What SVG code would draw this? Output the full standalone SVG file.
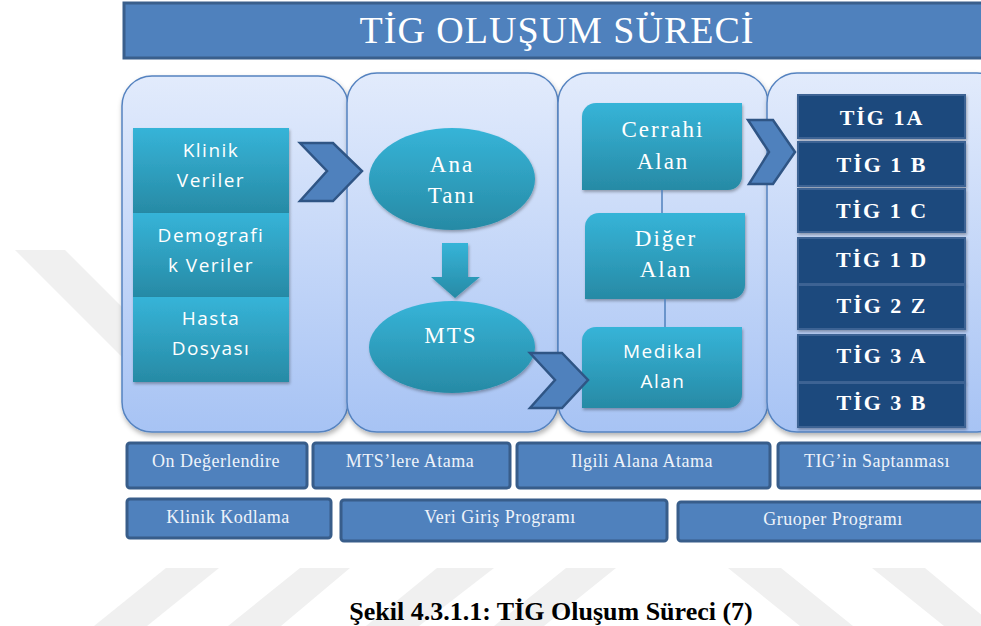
<svg xmlns="http://www.w3.org/2000/svg" width="981" height="626" viewBox="0 0 981 626">
<defs>
<linearGradient id="gPanel" x1="0" y1="0" x2="0" y2="1"><stop offset="0" stop-color="#e2ebfc"/><stop offset="1" stop-color="#a7c3f4"/></linearGradient>
<linearGradient id="gTeal" x1="0" y1="0" x2="0" y2="1"><stop offset="0" stop-color="#36b4d8"/><stop offset="1" stop-color="#278aa5"/></linearGradient>
<filter id="sh" x="-10%" y="-10%" width="130%" height="130%"><feDropShadow dx="1" dy="3" stdDeviation="2.5" flood-color="#000" flood-opacity="0.3"/></filter>
<filter id="sh2" x="-10%" y="-10%" width="130%" height="130%"><feDropShadow dx="1" dy="2" stdDeviation="1.5" flood-color="#000" flood-opacity="0.3"/></filter>
<style>
.wm{fill:#f0f0f0}
.panel{fill:url(#gPanel);stroke:#5583c0;stroke-width:1.5;filter:url(#sh)}
.teal{fill:url(#gTeal);filter:url(#sh2)}
.chev{fill:#4f81bd;stroke:#2f5585;stroke-width:2.5;stroke-linejoin:miter}
.tig{fill:#1f497d;stroke:#3e6494;stroke-width:2;filter:url(#sh2)}
.bar{fill:#4f81bd;stroke:#385d8a;stroke-width:3}
.sans{font-family:"Open Sans","Liberation Sans",sans-serif;font-size:19px;fill:#ffffff;text-anchor:middle;letter-spacing:1.5px}
.ser{font-family:"Liberation Serif","Times New Roman",serif;font-size:23px;fill:#ffffff;text-anchor:middle;letter-spacing:2px}
.tigt{font-family:"Liberation Serif","Times New Roman",serif;font-size:22px;font-weight:bold;fill:#ffffff;text-anchor:middle;letter-spacing:2px}
.bt{font-family:"Liberation Serif","Times New Roman",serif;font-size:18px;fill:#eef3fa;text-anchor:middle;letter-spacing:0.5px}
.line{stroke:#4f81bd;stroke-width:1.5;fill:none}
</style>
</defs>
<rect width="981" height="626" fill="#ffffff"/>
<g id="watermark">
<polygon class="wm" points="15,250 65,250 130,315 130,365"/>
<polygon class="wm" points="166,568 219,568 147,626 94,626"/>
<polygon class="wm" points="300,568 350,568 281,626 228,626"/>
<polygon class="wm" points="437,568 494,568 419,626 366,626"/>
<polygon class="wm" points="566,568 616,568 544,626 494,626"/>
<polygon class="wm" points="728,568 781,568 853,626 800,626"/>
<polygon class="wm" points="872,568 925,568 995,626 944,626"/>
</g>
<g id="title">
<rect x="124" y="3" width="870" height="55" fill="#4f81bd" stroke="#3a5f8c" stroke-width="3"/>
<text x="557" y="43" font-family="'Liberation Serif','Times New Roman',serif" font-size="38" fill="#ffffff" text-anchor="middle" letter-spacing="1">TİG OLUŞUM SÜRECİ</text>
</g>
<g id="panel1"><rect class="panel" x="122" y="76" width="226" height="356" rx="30"/></g>
<g id="panel2"><rect class="panel" x="347" y="73" width="211" height="359" rx="30"/></g>
<g id="panel3"><rect class="panel" x="558" y="73" width="210" height="359" rx="30"/></g>
<g id="panel4"><rect class="panel" x="767" y="73" width="240" height="359" rx="30"/></g>

<g id="klinik-veriler"><rect class="teal" x="133" y="128" width="156" height="85"/>
<text class="sans" x="211" y="157">Klinik</text><text class="sans" x="211" y="187">Veriler</text></g>
<g id="demografik-veriler"><rect class="teal" x="133" y="213" width="156" height="84"/>
<text class="sans" x="211" y="242">Demografi</text><text class="sans" x="211" y="272">k Veriler</text></g>
<g id="hasta-dosyasi"><rect class="teal" x="133" y="297" width="156" height="85"/>
<text class="sans" x="211" y="325">Hasta</text><text class="sans" x="211" y="355">Dosyası</text></g>

<g id="ana-tani"><ellipse class="teal" cx="452" cy="179" rx="83" ry="51"/>
<text class="ser" x="452" y="172" letter-spacing="2.5">Ana</text><text class="ser" x="452" y="203" letter-spacing="2.5">Tanı</text></g>
<g id="mts"><ellipse class="teal" cx="452" cy="347" rx="83" ry="46"/>
<text class="ser" x="451" y="343" letter-spacing="3">MTS</text></g>

<g id="cerrahi-alan"><path class="teal" d="M596 103H742V176A14 14 0 0 1 728 190H582V117A14 14 0 0 1 596 103Z"/>
<text class="ser" x="663" y="137">Cerrahi</text><text class="ser" x="663" y="169">Alan</text></g>
<g id="diger-alan"><path class="teal" d="M599 213H745V285A14 14 0 0 1 731 299H585V227A14 14 0 0 1 599 213Z"/>
<text class="ser" x="666" y="246">Diğer</text><text class="ser" x="666" y="277">Alan</text></g>
<g id="medikal-alan"><path class="teal" d="M596 327H742V394A14 14 0 0 1 728 408H582V341A14 14 0 0 1 596 327Z"/>
<text class="sans" x="663" y="358" letter-spacing="2">Medikal</text><text class="sans" x="663" y="388" letter-spacing="2">Alan</text></g>

<g id="tig-1a"><rect class="tig" x="798" y="95" width="167" height="43"/><text class="tigt" x="882" y="125">TİG 1A</text></g>
<g id="tig-1b"><rect class="tig" x="798" y="142" width="167" height="44"/><text class="tigt" x="882" y="172">TİG 1 B</text></g>
<g id="tig-1c"><rect class="tig" x="798" y="189" width="167" height="43"/><text class="tigt" x="882" y="218">TİG 1 C</text></g>
<g id="tig-1d"><rect class="tig" x="798" y="238" width="167" height="46"/><text class="tigt" x="882" y="267">TİG 1 D</text></g>
<g id="tig-2z"><rect class="tig" x="798" y="285" width="167" height="44"/><text class="tigt" x="882" y="313">TİG 2 Z</text></g>
<g id="tig-3a"><rect class="tig" x="798" y="335" width="167" height="47"/><text class="tigt" x="882" y="363">TİG 3 A</text></g>
<g id="tig-3b"><rect class="tig" x="798" y="383" width="167" height="44"/><text class="tigt" x="882" y="410">TİG 3 B</text></g>

<g id="connectors">
<line class="line" x1="662" y1="190" x2="662" y2="213"/>
<line class="line" x1="665" y1="299" x2="665" y2="327"/>
<polygon class="chev" points="300,143 333,143 362,171 333,201 300,201 327,171"/>
<polygon class="chev" points="530,353 562,353 588,380 562,408 530,408 555,380"/>
<polygon class="chev" points="748,120 773,120 795,152 773,184 749,184 769,152"/>
<path class="teal" d="M442 243H468V277H480L455 298L431 277H442Z"/>
</g>

<g id="on-degerlendire"><rect class="bar" x="127" y="443" width="180" height="45" rx="3"/><text class="bt" x="216" y="467">On Değerlendire</text></g>
<g id="mts-atama"><rect class="bar" x="313" y="443" width="197" height="45" rx="3"/><text class="bt" x="410" y="467">MTS’lere Atama</text></g>
<g id="ilgili-alana-atama"><rect class="bar" x="517" y="443" width="253" height="45" rx="3"/><text class="bt" x="642" y="467">Ilgili Alana Atama</text></g>
<g id="tig-saptanmasi"><rect class="bar" x="778" y="443" width="215" height="45" rx="3"/><text class="bt" x="877" y="467">TIG’in Saptanması</text></g>
<g id="klinik-kodlama"><rect class="bar" x="127" y="499" width="204" height="39" rx="3"/><text class="bt" x="228" y="523">Klinik Kodlama</text></g>
<g id="veri-giris"><rect class="bar" x="341" y="500" width="326" height="41" rx="3"/><text class="bt" x="500" y="523">Veri Giriş Programı</text></g>
<g id="gruoper"><rect class="bar" x="678" y="502" width="315" height="39" rx="3"/><text class="bt" x="833" y="525">Gruoper Programı</text></g>

<text x="551" y="620" font-family="'Liberation Serif','Times New Roman',serif" font-size="26" font-weight="bold" fill="#000000" text-anchor="middle">Şekil 4.3.1.1: TİG Oluşum Süreci (7)</text>
</svg>
